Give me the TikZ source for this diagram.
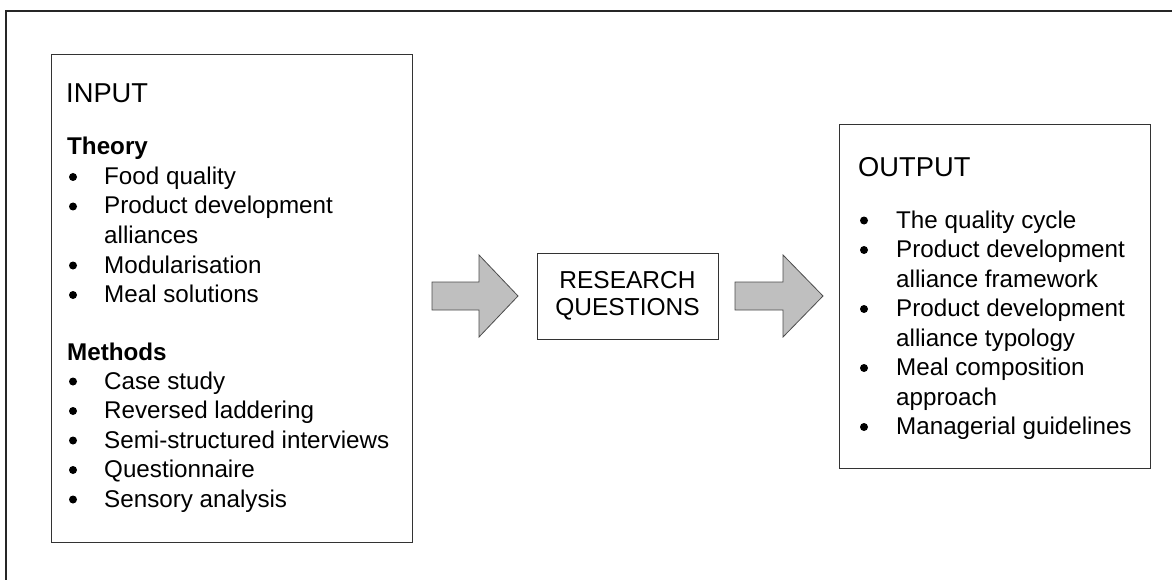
\documentclass[tikz,border=0pt]{standalone}
\usepackage{fontspec}
\setmainfont{Liberation Sans}
\begin{document}
\begin{tikzpicture}[x=1pt,y=-1pt,
  frame/.style={draw=black!85, line width=1.7pt},
  panel/.style={draw=black!80, line width=1pt, fill=white},
  bigarrow/.style={draw=black!70, line width=0.8pt, fill=black!25},
  txtline/.style={anchor=base west, inner sep=0pt, font=\fontsize{24.2}{29}\selectfont},
  headline/.style={anchor=base west, inner sep=0pt, font=\fontsize{27.3}{32}\selectfont},
  dot/.style={fill=black},
]
\useasboundingbox (0,0) rectangle (1172,580);

% surrounding frame, running off the page to the right and bottom
\begin{scope}
  \clip (0,0) rectangle (1172,580);
  \draw[frame] (6,11) rectangle (1190,600);
\end{scope}

% the three boxes
\node[panel, anchor=north west, minimum width=361, minimum height=488] (input) at (51,54) {};
\node[panel, anchor=north west, minimum width=311, minimum height=344] (output) at (839,124) {};
\node[panel, minimum width=181, minimum height=86, align=center,
      font=\fontsize{24.5}{27.5}\selectfont] (rq) at (627.5,296) {RESEARCH\\QUESTIONS};

% block arrows
\draw[bigarrow] (432,282) -- (479,282) -- (479,255) -- (518,296) -- (479,337)
  -- (479,310) -- (432,310) -- cycle;
\draw[bigarrow] (735,282) -- (783,282) -- (783,255) -- (823,296) -- (783,337)
  -- (783,310) -- (735,310) -- cycle;

% input box contents
\node[headline] (intitle) at (66,103) {INPUT};
\node[txtline, font=\fontsize{24.2}{29}\selectfont\bfseries] (theory) at (67,155) {Theory};
\node[txtline, font=\fontsize{24.2}{29}\selectfont\bfseries] (methods) at (67,360) {Methods};
\foreach \yy/\txt [count=\i] in {
    184.5/Food quality,
    214/Product development,
    243.5/alliances,
    273/Modularisation,
    302.5/Meal solutions,
    389/Case study,
    418.5/Reversed laddering,
    448/Semi-structured interviews,
    477.5/Questionnaire,
    507/Sensory analysis}
  \node[txtline] (in\i) at (104,\yy) {\txt};
\foreach \yy in {184.5,214,273,302.5,389,418.5,448,477.5,507}
  \fill[dot] (73,{\yy-7.5}) circle (4);

% output box contents
\node[headline] (outtitle) at (858,177) {OUTPUT};
\foreach \yy/\txt [count=\i] in {
    228/The quality cycle,
    257.5/Product development,
    287/alliance framework,
    316.5/Product development,
    346/alliance typology,
    375.5/Meal composition,
    405/approach,
    434.5/Managerial guidelines}
  \node[txtline] (out\i) at (896,\yy) {\txt};
\foreach \yy in {228,257.5,316.5,375.5,434.5}
  \fill[dot] (864,{\yy-7.5}) circle (4);
\end{tikzpicture}
\end{document}
